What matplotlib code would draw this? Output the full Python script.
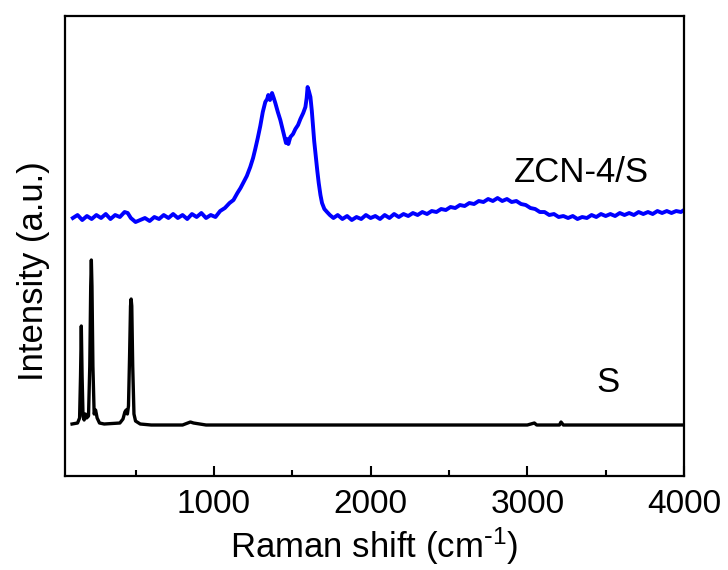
import matplotlib

matplotlib.use("Agg")
import matplotlib.pyplot as plt
from matplotlib.ticker import MultipleLocator, NullLocator

plt.rcParams.update({
    "font.family": ["Liberation Sans", "DejaVu Sans"],
    "mathtext.default": "regular",
    "axes.linewidth": 1.6,
})

# ZCN-4/S spectrum (offset)
zcn_x = [100, 130, 160, 190, 220, 250, 280, 310, 340, 370, 400, 430, 450, 470, 500,
         530, 560, 590, 620, 650, 680, 710, 740, 770, 800, 830, 860, 890, 920, 950,
         980, 1010, 1040, 1070, 1100, 1125, 1150, 1170, 1190, 1210, 1232, 1250, 1264,
         1280, 1296, 1312, 1328, 1340, 1347, 1358, 1371, 1382, 1392, 1408, 1424, 1438,
         1450, 1460, 1467, 1475, 1488, 1505, 1520, 1537, 1552, 1570, 1584, 1592, 1598,
         1606, 1616, 1625, 1633, 1640, 1648, 1660, 1669, 1680, 1690, 1705, 1722, 1740,
         1763, 1790, 1820, 1850, 1880, 1910, 1940, 1970, 2000, 2030, 2060, 2090, 2120,
         2150, 2180, 2210, 2240, 2270, 2300, 2330, 2360, 2390, 2420, 2450, 2480, 2510,
         2540, 2570, 2600, 2630, 2660, 2690, 2720, 2750, 2780, 2810, 2840, 2870, 2900,
         2930, 2960, 2990, 3020, 3050, 3080, 3110, 3140, 3170, 3200, 3230, 3260, 3290,
         3320, 3350, 3380, 3410, 3440, 3470, 3500, 3530, 3560, 3590, 3620, 3650, 3680,
         3710, 3740, 3770, 3800, 3830, 3860, 3890, 3920, 3950, 3980, 4000]
zcn_y = [258, 261, 256, 260, 257, 261, 258, 262, 257, 261, 259, 264, 263, 258, 254,
         256, 258, 255, 259, 257, 261, 258, 262, 258, 261, 257, 262, 259, 263, 258,
         261, 259, 265, 268, 273, 276, 283, 288, 294, 300, 309, 318, 327,
         338, 350, 364, 374, 377, 381, 376, 383, 378, 373, 364, 356, 347,
         339, 333, 337, 332, 339, 342, 347, 351, 357, 363, 369, 378, 389,
         385, 379, 365, 349, 335, 323, 305, 293, 281, 273, 267, 264, 261,
         258, 261, 257, 260, 256, 259, 257, 261, 258, 260, 257, 261, 258,
         262, 259, 262, 260, 263, 261, 264, 262, 265, 264, 267, 266, 269,
         268, 271, 270, 273, 272, 275, 274, 277, 275, 278, 275, 277, 274,
         275, 272, 271, 268, 267, 264, 264, 261, 262, 259, 260, 258, 260,
         257, 259, 258, 261, 259, 262, 260, 262, 260, 263, 261, 263, 261,
         264, 262, 264, 262, 265, 263, 265, 263, 265, 264, 266]

# elemental S spectrum
s_x = [95, 130, 143, 149, 154, 159, 165, 172, 180, 188, 200, 208, 214, 218, 222,
       228, 236, 245, 255, 270, 300, 400, 420, 432, 440, 448, 455, 462, 468, 472,
       476, 482, 490, 500, 530, 600, 800, 850, 870, 950, 1500, 2000, 3000, 3045,
       3060, 3205, 3215, 3230, 4000]
s_y = [52, 53, 58, 100, 150, 100, 60, 56, 62, 58, 60, 110, 190, 216, 190,
       110, 62, 66, 58, 53, 52, 53, 57, 64, 66, 62, 70, 120, 170, 177,
       170, 110, 62, 55, 52, 51, 51, 54, 53, 51, 51, 51, 51, 53,
       51, 51, 54, 51, 51]

labels = ["ZCN-4/S", "S"]
label_pos = [(3347, 304), (3513, 94)]

fig = plt.figure(figsize=(7.28, 5.70), dpi=100)
ax = fig.add_axes([0.0893, 0.1649, 0.8503, 0.807])

ax.plot(zcn_x, zcn_y, color="#0000ff", lw=2.8)
ax.plot(s_x, s_y, color="black", lw=2.4)

for txt, (x, y) in zip(labels, label_pos):
    ax.text(x, y, txt, fontsize=25, ha="center", va="center")

ax.set_xlim(50, 4000)
ax.set_ylim(0, 460)
ax.xaxis.set_major_locator(MultipleLocator(1000))
ax.xaxis.set_minor_locator(MultipleLocator(500))
ax.yaxis.set_major_locator(NullLocator())
ax.set_xticks([1000, 2000, 3000, 4000])
ax.tick_params(axis="x", which="major", direction="in", length=7, width=1.5,
               labelsize=24, pad=9, top=False)
ax.tick_params(axis="x", which="minor", direction="in", length=4, width=1.5, top=False)
ax.tick_params(axis="y", left=False, right=False, labelleft=False)

ax.set_xlabel(r"Raman shift (cm$^{\text{-}1}$)", fontsize=25, labelpad=4)
ax.set_ylabel("Intensity (a.u.)", fontsize=25)
ax.yaxis.set_label_coords(-0.025, 0.446)

fig.savefig("out.png", dpi=100)
